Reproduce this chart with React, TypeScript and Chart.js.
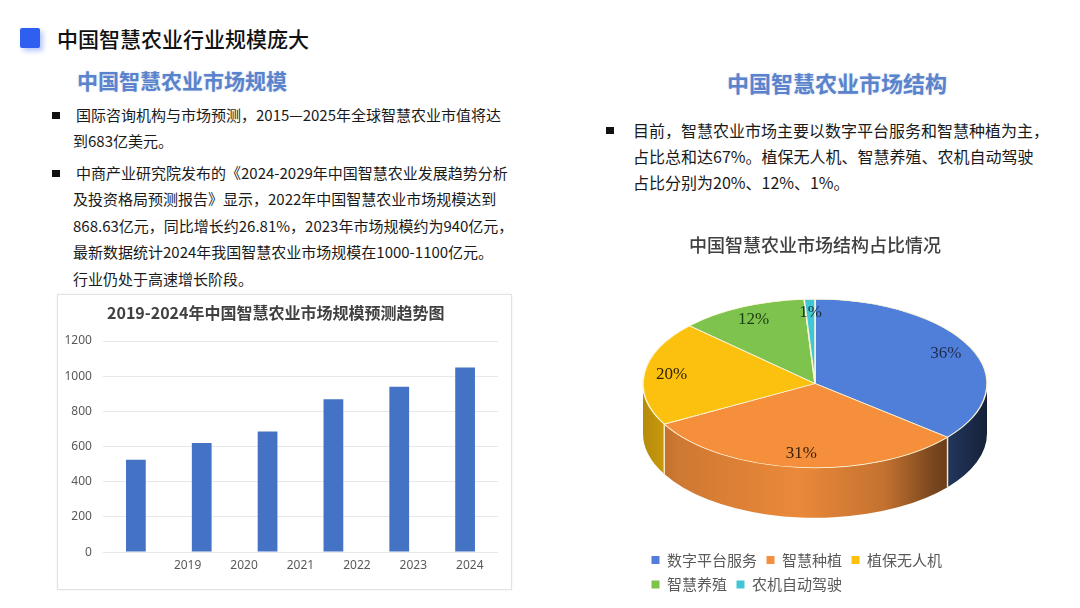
import React, { useEffect, useRef } from 'react';
import { Chart, registerables } from 'chart.js';

Chart.register(...registerables);

// ---------- data ----------
const barValues = [525, 620, 685, 869, 940, 1050];
const barSlots = ['b1', 'b2', 'b3', 'b4', 'b5', 'b6'];
const yearLabels = ['2019', '2020', '2021', '2022', '2023', '2024'];
const yMin = 0;
const yMax = 1200;
const yStep = 200;

const pieLabels = ['数字平台服务', '智慧种植', '植保无人机', '智慧养殖', '农机自动驾驶'];
const pieValues = [36, 31, 20, 12, 1];

// ---------- styles ----------
const CJK = "'Noto Sans CJK SC', 'Noto Sans', sans-serif";
const barColor = '#4472c4';
const pieColors = ['#4f7fd8', '#f58f3c', '#fcc10f', '#7dc34e', '#41c6d6'];
const pieLabelColors = ['#1d2c4f', '#3a2108', '#2d2306', '#1b3d12', '#1b3040'];

function shade(hex: string, f: number): string {
  const n = parseInt(hex.slice(1), 16);
  const r = Math.round(((n >> 16) & 255) * f);
  const g = Math.round(((n >> 8) & 255) * f);
  const b = Math.round((n & 255) * f);
  return `rgb(${r},${g},${b})`;
}

const pie3d = {
  id: 'pie3d',
  beforeDatasetsDraw(chart: any, _args: any, opts: any) {
    const meta = chart.getDatasetMeta(0);
    const arcs = meta.data;
    chart.$pie3dSaved = false;
    if (!arcs.length) return;
    const ctx = chart.ctx as CanvasRenderingContext2D;
    const p0 = arcs[0].getProps(['x', 'y', 'outerRadius'], true);
    const cx = p0.x, cy0 = p0.y, r = p0.outerRadius;
    const k = opts.tilt, depth = opts.depth;
    const cy = cy0 - depth / 2;
    const ry = r * k;
    const colors = chart.data.datasets[0].backgroundColor as string[];
    ctx.save();
    arcs.forEach((arc: any, i: number) => {
      const { startAngle, endAngle } = arc.getProps(['startAngle', 'endAngle'], true);
      const a1 = Math.max(startAngle, 0);
      const a2 = Math.min(endAngle, Math.PI);
      if (a2 <= a1) return;
      const c = colors[i];
      const grad = ctx.createLinearGradient(cx - r, 0, cx + r, 0);
      grad.addColorStop(0, shade(c, 0.72));
      grad.addColorStop(0.1, shade(c, 0.84));
      grad.addColorStop(0.45, shade(c, 0.96));
      grad.addColorStop(0.7, shade(c, 0.8));
      grad.addColorStop(0.85, shade(c, 0.48));
      grad.addColorStop(1, shade(c, 0.26));
      ctx.beginPath();
      ctx.ellipse(cx, cy, r, ry, 0, a1, a2);
      ctx.ellipse(cx, cy + depth, r, ry, 0, a2, a1, true);
      ctx.closePath();
      ctx.fillStyle = grad;
      ctx.fill();
    });
    // seams between slices on the side wall
    ctx.strokeStyle = opts.seamColor;
    ctx.lineWidth = 1.5;
    arcs.forEach((arc: any) => {
      const { startAngle } = arc.getProps(['startAngle'], true);
      if (startAngle > 0 && startAngle < Math.PI) {
        const sx = cx + Math.cos(startAngle) * r;
        const sy = cy + Math.sin(startAngle) * ry;
        ctx.beginPath();
        ctx.moveTo(sx, sy);
        ctx.lineTo(sx, sy + depth);
        ctx.stroke();
      }
    });
    ctx.restore();
    ctx.save();
    ctx.translate(cx, cy);
    ctx.scale(1, k);
    ctx.translate(-cx, -cy0);
    chart.$pie3dSaved = true;
  },
  afterDatasetsDraw(chart: any, _args: any, opts: any) {
    if (!chart.$pie3dSaved) return;
    const ctx = chart.ctx as CanvasRenderingContext2D;
    ctx.restore();
    chart.$pie3dSaved = false;
    const meta = chart.getDatasetMeta(0);
    const arcs = meta.data;
    const values = chart.data.datasets[0].data as number[];
    const total = values.reduce((s, v) => s + v, 0);
    const k = opts.tilt, depth = opts.depth;
    ctx.save();
    ctx.font = opts.labelFont;
    ctx.textAlign = 'center';
    ctx.textBaseline = 'middle';
    arcs.forEach((arc: any, i: number) => {
      const { x, y, startAngle, endAngle, outerRadius } = arc.getProps(
        ['x', 'y', 'startAngle', 'endAngle', 'outerRadius'], true);
      const mid = (startAngle + endAngle) / 2;
      const lr = outerRadius * opts.labelRadius;
      const lx = x + Math.cos(mid) * lr;
      const ly = y - depth / 2 + Math.sin(mid) * lr * k;
      ctx.fillStyle = opts.labelColors[i];
      ctx.fillText(Math.round((values[i] / total) * 100) + '%', lx, ly);
    });
    ctx.restore();
  },
};

const textLine: React.CSSProperties = { whiteSpace: 'nowrap' };

export default function App() {
  const barRef = useRef<HTMLCanvasElement>(null);
  const pieRef = useRef<HTMLCanvasElement>(null);

  useEffect(() => {
    const bar = new Chart(barRef.current!, {
      type: 'bar',
      data: {
        labels: barSlots,
        datasets: [
          {
            data: barValues,
            backgroundColor: barColor,
            barPercentage: 0.3,
            categoryPercentage: 1,
          },
        ],
      },
      options: {
        animation: false,
        responsive: true,
        maintainAspectRatio: false,
        layout: { padding: { left: -4.5, right: 0, top: 0, bottom: 10.5 } },
        plugins: {
          legend: { display: false },
          tooltip: { enabled: false },
          title: {
            display: true,
            text: '2019-2024年中国智慧农业市场规模预测趋势图',
            color: '#404040',
            font: { family: CJK, size: 16, weight: 'bold' },
            padding: { top: 8.4, bottom: 18.4 },
          },
        },
        scales: {
          x: { display: false },
          x2: {
            type: 'category',
            labels: ['', ...yearLabels],
            position: 'bottom',
            offset: true,
            grid: { display: false, drawTicks: false },
            border: { display: false },
            ticks: { color: '#595959', font: { family: "'Noto Sans', sans-serif", size: 12 }, padding: 6 },
          },
          y: {
            min: yMin,
            max: yMax,
            ticks: {
              stepSize: yStep,
              color: '#595959',
              font: { family: "'Noto Sans', sans-serif", size: 12 },
              padding: 11,
              callback: (v: any) => String(v),
            },
            grid: { color: '#e8e8e8', drawTicks: false },
            border: { display: false },
          },
        },
      } as any,
    });

    const baseGen = (Chart.overrides as any).doughnut.plugins.legend.labels.generateLabels;
    const pie = new Chart(pieRef.current!, {
      type: 'pie',
      data: {
        labels: pieLabels,
        datasets: [
          {
            data: pieValues,
            backgroundColor: pieColors,
            borderColor: '#fdf6d8',
            borderWidth: 1.5,
            radius: 172,
            clip: false,
          } as any,
        ],
      },
      options: {
        animation: false,
        responsive: true,
        maintainAspectRatio: false,
        layout: { padding: { left: 52, right: 52, top: 0, bottom: 0 } },
        plugins: {
          tooltip: { enabled: false },
          title: {
            display: true,
            text: '中国智慧农业市场结构占比情况',
            color: '#404040',
            font: { family: CJK, size: 18, weight: '500' },
            padding: { top: 12.2, bottom: 18.2 },
          },
          legend: {
            position: 'bottom',
            align: 'start',
            labels: {
              boxWidth: 8,
              boxHeight: 8,
              padding: 9.5,
              color: '#595959',
              font: { family: CJK, size: 15 },
              generateLabels: (chart: any) =>
                baseGen(chart).map((l: any) => ({ ...l, lineWidth: 0, strokeStyle: 'transparent' })),
            },
          },
          pie3d: {
            tilt: 0.49,
            depth: 50,
            seamColor: '#f3e7c4',
            labelRadius: 0.84,
            labelFont: "17px 'Liberation Serif', 'DejaVu Serif', serif",
            labelColors: pieLabelColors,
          },
        },
      } as any,
      plugins: [pie3d as any],
    });

    return () => {
      bar.destroy();
      pie.destroy();
    };
  }, []);

  return (
    <div
      style={{
        position: 'absolute',
        left: 0,
        top: 0,
        width: 1080,
        height: 608,
        background: '#ffffff',
        overflow: 'hidden',
        fontFamily: CJK,
        color: '#1a1a1a',
      }}
    >
      {/* header */}
      <div
        style={{
          position: 'absolute', left: 20, top: 28, width: 20, height: 20,
          background: '#2f5ff0', borderRadius: 2,
          boxShadow: '3px 3px 5px rgba(47,95,240,0.35)',
        }}
      />
      <div style={{ position: 'absolute', left: 57, top: 24, lineHeight: '28px', fontSize: 21, fontWeight: 500, color: '#111', ...textLine }}>
        中国智慧农业行业规模庞大
      </div>

      {/* left section */}
      <div
        style={{
          position: 'absolute', left: 77, top: 66, lineHeight: '28px', fontSize: 21, fontWeight: 700,
          color: '#5b83cc', textShadow: '0 0 2px rgba(91,131,204,0.35)', ...textLine,
        }}
      >
        中国智慧农业市场规模
      </div>

      <div style={{ position: 'absolute', left: 52, top: 112, width: 8, height: 7, background: '#111' }} />
      <div style={{ position: 'absolute', left: 73, top: 101.7, fontSize: 15, lineHeight: '26.6px', ...textLine }}>
        <div style={{ paddingLeft: 3 }}>国际咨询机构与市场预测，2015—2025年全球智慧农业市值将达</div>
        <div>到683亿美元。</div>
      </div>

      <div style={{ position: 'absolute', left: 52, top: 170, width: 8, height: 7, background: '#111' }} />
      <div style={{ position: 'absolute', left: 73, top: 159.7, fontSize: 15, lineHeight: '26.5px', ...textLine }}>
        <div style={{ paddingLeft: 3 }}>中商产业研究院发布的《2024-2029年中国智慧农业发展趋势分析</div>
        <div>及投资格局预测报告》显示，2022年中国智慧农业市场规模达到</div>
        <div>868.63亿元，同比增长约26.81%，2023年市场规模约为940亿元，</div>
        <div>最新数据统计2024年我国智慧农业市场规模在1000-1100亿元。</div>
        <div>行业仍处于高速增长阶段。</div>
      </div>

      {/* bar chart box */}
      <div
        style={{
          position: 'absolute', left: 57, top: 294, width: 453, height: 294,
          border: '1px solid #e2e2e2', boxShadow: '0 0 3px rgba(0,0,0,0.06)', background: '#fff',
        }}
      />
      <div style={{ position: 'absolute', left: 58, top: 295, width: 440, height: 294 }}>
        <canvas ref={barRef} />
      </div>

      {/* right section */}
      <div
        style={{
          position: 'absolute', left: 727, top: 68, lineHeight: '28px', fontSize: 22, fontWeight: 700,
          color: '#5b83cc', textShadow: '0 0 2px rgba(91,131,204,0.35)', ...textLine,
        }}
      >
        中国智慧农业市场结构
      </div>
      <div style={{ position: 'absolute', left: 606, top: 127, width: 8, height: 7, background: '#111' }} />
      <div style={{ position: 'absolute', left: 633, top: 117, fontSize: 16, lineHeight: '26px', ...textLine }}>
        <div>目前，智慧农业市场主要以数字平台服务和智慧种植为主，</div>
        <div>占比总和达67%。植保无人机、智慧养殖、农机自动驾驶</div>
        <div>占比分别为20%、12%、1%。</div>
      </div>

      <div style={{ position: 'absolute', left: 590, top: 222, width: 450, height: 380 }}>
        <canvas ref={pieRef} />
      </div>
    </div>
  );
}
